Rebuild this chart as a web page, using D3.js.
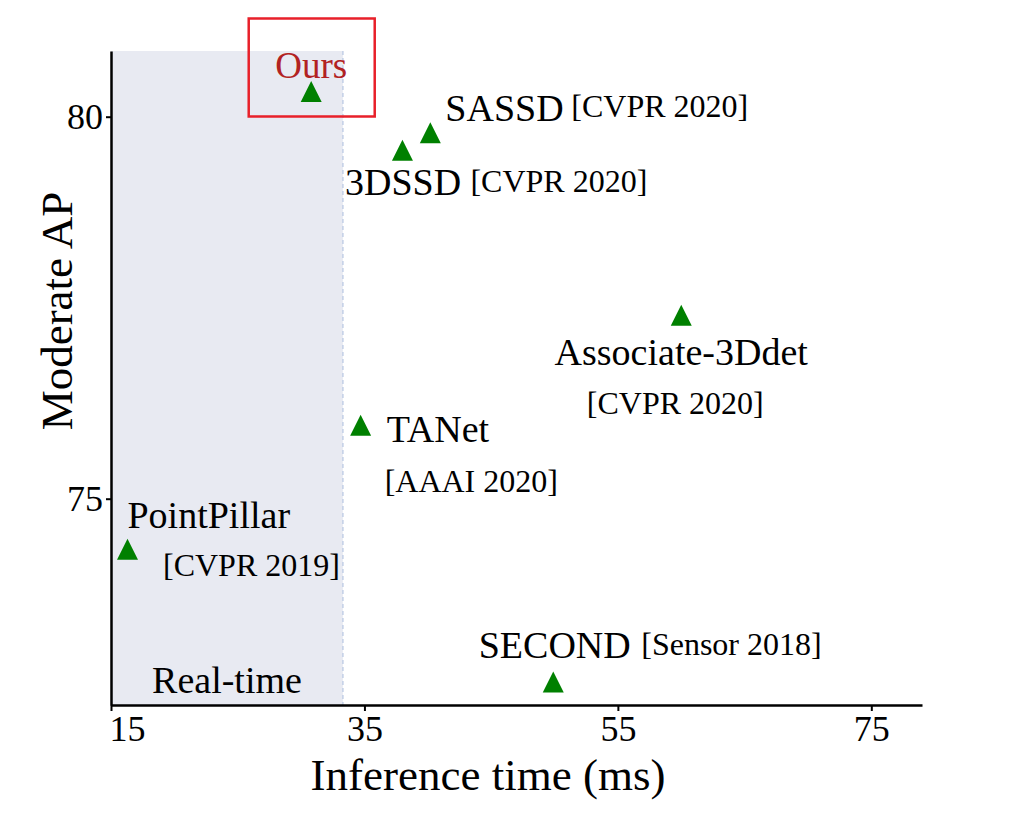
<!DOCTYPE html>
<html>
<head>
<meta charset="utf-8">
<script src="https://cdn.jsdelivr.net/npm/d3@7"></script>
<style>
  body { margin: 0; background: #fff; }
  svg { display: block; }
  text { font-family: "Liberation Serif", "Times New Roman", serif; }
</style>
</head>
<body>
<div id="chart"></div>
<script>
// ---- data ----
const methods = ["Ours", "SASSD", "3DSSD", "Associate-3Ddet", "TANet", "PointPillar", "SECOND"];
const venues = ["", "[CVPR 2020]", "[CVPR 2020]", "[CVPR 2020]", "[AAAI 2020]", "[CVPR 2019]", "[Sensor 2018]"];
const inferenceTime = [30.8, 40.2, 38.0, 60.0, 34.7, 16.3, 49.9];
const moderateAP = [80.33, 79.79, 79.56, 77.40, 75.96, 74.34, 72.60];
const xTicks = [15, 35, 55, 75];
const yTicks = [75, 80];
const realTimeLimit = 33.3;

// ---- label layout (pixel offsets from the marker) ----
const nameLayout = [
  {dx: 0, dy: -13.5, anchor: "middle"},
  {dx: 15, dy: -12, anchor: "start"},
  {dx: -57.5, dy: 44.5, anchor: "start"},
  {dx: 0, dy: 50, anchor: "middle"},
  {dx: 26, dy: 17, anchor: "start"},
  {dx: 0, dy: -21.5, anchor: "start"},
  {dx: -74.5, dy: -24, anchor: "start"}
];
const venueLayout = [
  null,
  {dx: 141, dy: -16, anchor: "start"},
  {dx: 68, dy: 41.5, anchor: "start"},
  {dx: -6, dy: 99, anchor: "middle"},
  {dx: 24, dy: 67, anchor: "start"},
  {dx: 35.5, dy: 26.5, anchor: "start"},
  {dx: 88, dy: -27, anchor: "start"}
];

const W = 1015, H = 817;
const svg = d3.select("#chart").append("svg").attr("width", W).attr("height", H);

const x = d3.scaleLinear().domain([15, 79]).range([111, 922]);
const y = d3.scaleLinear().domain([72.3, 80.86]).range([705, 51]);

// real-time shaded region
svg.append("rect")
  .attr("x", x(15)).attr("y", y(80.86))
  .attr("width", x(realTimeLimit) - x(15))
  .attr("height", y(72.3) - y(80.86))
  .attr("fill", "#e8eaf2");
svg.append("line")
  .attr("x1", x(realTimeLimit)).attr("x2", x(realTimeLimit))
  .attr("y1", y(80.86)).attr("y2", y(72.3))
  .attr("stroke", "#c3cfe6").attr("stroke-width", 1.5)
  .attr("stroke-dasharray", "4,3");

svg.append("text")
  .attr("x", 227).attr("y", 693)
  .attr("text-anchor", "middle")
  .attr("font-size", 38).attr("fill", "#000")
  .text("Real-time");

// axes
const xAxis = svg.append("g").attr("transform", `translate(0,${y(72.3)})`)
  .call(d3.axisBottom(x).tickValues(xTicks).tickSize(6).tickSizeOuter(0));
const yAxis = svg.append("g").attr("transform", `translate(${x(15)},0)`)
  .call(d3.axisLeft(y).tickValues(yTicks).tickSize(5).tickSizeOuter(0));

[xAxis, yAxis].forEach(g => {
  g.select(".domain").attr("stroke", "#000").attr("stroke-width", 2.5);
  g.selectAll(".tick line").attr("stroke", "#000").attr("stroke-width", 2);
  g.selectAll(".tick text").attr("font-size", 36).attr("fill", "#000")
    .attr("font-family", "Liberation Serif, Times New Roman, serif");
});
xAxis.selectAll(".tick text").attr("y", 36).attr("dy", 0);
xAxis.selectAll(".tick text").filter(d => d === 15).attr("dx", 16);
yAxis.selectAll(".tick text").attr("x", -8).attr("dy", "0.33em");

// axis titles
svg.append("text")
  .attr("x", 488).attr("y", 790)
  .attr("text-anchor", "middle").attr("font-size", 45)
  .text("Inference time (ms)");
svg.append("text")
  .attr("transform", "translate(72,311) rotate(-90)")
  .attr("text-anchor", "middle").attr("font-size", 45)
  .text("Moderate AP");

// markers
const tri = (cx, cy, s) => `M${cx},${cy - s} L${cx + s},${cy + s} L${cx - s},${cy + s} Z`;
const pts = methods.map((m, i) => ({m, v: venues[i], t: inferenceTime[i], ap: moderateAP[i], i}));

svg.append("g").selectAll("path").data(pts).join("path")
  .attr("d", d => tri(x(d.t), y(d.ap), 10.5))
  .attr("fill", "#008000");

// labels
svg.append("g").selectAll("text").data(pts).join("text")
  .attr("x", d => x(d.t) + nameLayout[d.i].dx)
  .attr("y", d => y(d.ap) + nameLayout[d.i].dy)
  .attr("text-anchor", d => nameLayout[d.i].anchor)
  .attr("font-size", d => d.i === 0 ? 37 : 38)
  .attr("fill", d => d.i === 0 ? "#b22222" : "#000")
  .text(d => d.m);

svg.append("g").selectAll("text").data(pts.filter(d => venueLayout[d.i])).join("text")
  .attr("x", d => x(d.t) + venueLayout[d.i].dx)
  .attr("y", d => y(d.ap) + venueLayout[d.i].dy)
  .attr("text-anchor", d => venueLayout[d.i].anchor)
  .attr("font-size", 32)
  .attr("fill", "#000")
  .text(d => d.v);

// highlight box around "Ours"
const ours = pts[0];
svg.append("rect")
  .attr("x", x(ours.t) - 62.5).attr("y", y(ours.ap) - 73)
  .attr("width", 126).attr("height", 98)
  .attr("fill", "none").attr("stroke", "#e8202a").attr("stroke-width", 2.5);
</script>
</body>
</html>
